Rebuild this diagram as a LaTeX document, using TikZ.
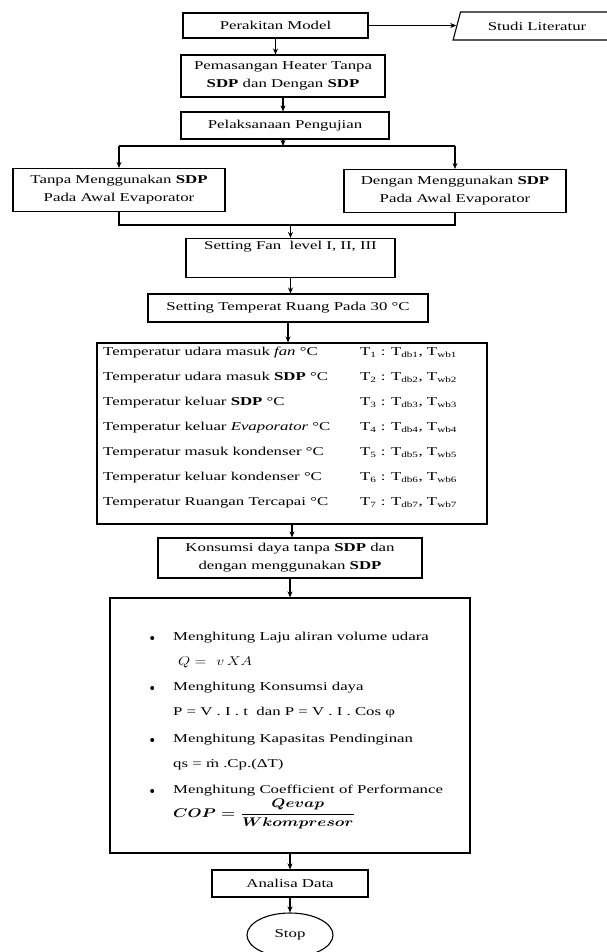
\documentclass[tikz,border=0pt]{standalone}
\usepackage{fontspec}
\setmainfont{Liberation Serif}[FakeStretch=1.4]
\usetikzlibrary{positioning, arrows.meta, calc, shapes.geometric}

\begin{document}
\begin{tikzpicture}[x=1pt, y=-1pt, font=\fontsize{12}{18}\selectfont, >={Stealth[length=6pt, width=5pt]},
  kotak/.style={draw, line width=1.1pt, align=center, inner sep=1pt},
  garis/.style={line width=1.1pt},
  baris/.style={anchor=west, inner sep=0pt}]
  \useasboundingbox (0,0) rectangle (606,952);
  % alur atas
  \node[kotak, minimum width=185, minimum height=25] (perakitan) at (275.5,25.5) {Perakitan Model};
  \node[kotak, trapezium, trapezium left angle=65, trapezium right angle=115, trapezium stretches, minimum width=168, minimum height=28] (studi) at (537,26) {Studi Literatur};
  \node[kotak, minimum width=204, minimum height=42] (pemasangan) at (283,76) {Pemasangan Heater Tanpa\\\textbf{SDP} dan Dengan \textbf{SDP}};
  \node[kotak, minimum width=208, minimum height=27] (pelaksanaan) at (285,125.5) {Pelaksanaan Pengujian};
  \node[kotak, minimum width=212, minimum height=43] (tanpa) at (119,190) {Tanpa Menggunakan \textbf{SDP}\\Pada Awal Evaporator};
  \node[kotak, minimum width=222, minimum height=43] (dengan) at (455,191) {Dengan Menggunakan \textbf{SDP}\\Pada Awal Evaporator};
  \node[kotak, minimum width=209, text height=10, text depth=27] (fan) at (290.5,258) {Setting Fan\ \ level I, II, III};
  \node[kotak, minimum width=280, minimum height=28] (suhu) at (288,308) {Setting Temperat Ruang Pada 30 °C};
  % tabel pengukuran
  \node[kotak, minimum width=390, minimum height=181] (tabel) at (292,433.5) {};
  \foreach \i/\teks in {1/{Temperatur udara masuk \textit{fan} °C},
                        2/{Temperatur udara masuk \textbf{SDP} °C},
                        3/{Temperatur keluar \textbf{SDP} °C},
                        4/{Temperatur keluar \textit{Evaporator} °C},
                        5/{Temperatur masuk kondenser °C},
                        6/{Temperatur keluar kondenser °C},
                        7/{Temperatur Ruangan Tercapai °C}} {
    \node[baris] (r\i) at (103,328+25*\i) {\teks};
    \node[baris] (t\i) at (360,328+25*\i) {T\textsubscript{\i} : T\textsubscript{db\i}, T\textsubscript{wb\i}};
  }
  \node[kotak, minimum width=264, minimum height=40] (konsumsi) at (290,558) {Konsumsi daya tanpa \textbf{SDP} dan\\dengan menggunakan \textbf{SDP}};
  % perhitungan
  \node[kotak, minimum width=360, minimum height=255] (hitung) at (290,725.5) {};
  \foreach \n/\y/\teks in {1/638/{Menghitung Laju aliran volume udara},
                           2/688/{Menghitung Konsumsi daya},
                           3/740/{Menghitung Kapasitas Pendinginan},
                           4/791/{Menghitung Coefficient of Performance}} {
    \node[baris, circle, fill, minimum size=4pt] (p\n) at (150,\y) {};
    \node[baris] (h\n) at (173,\y) {\teks};
  }
  \node[baris] (f1) at (178,662) {\scalebox{1.3}[1.05]{$Q =\ v\,X A$}};
  \node[baris] (f2) at (173,713) {P = V . I . t\ \ dan P = V . I . Cos φ};
  \node[baris] (f3) at (173,765) {qs = \.{m} .Cp.(ΔT)};
  \node[baris] (f4) at (173,814) {\scalebox{1.35}[1.05]{\boldmath$COP = \displaystyle\frac{Qevap}{Wkompresor}$}};
  \node[kotak, minimum width=156, minimum height=27] (analisa) at (290,883.5) {Analisa Data};
  \node[draw, ellipse, line width=1.1pt, minimum width=86, minimum height=44] (stop) at (290,935) {Stop};
  % penghubung
  \coordinate (pisah) at (283,146);
  \coordinate (gabung) at (290,225);
  \draw[garis, ->] (perakitan.east) -- (perakitan.east -| studi.west);
  \draw[garis, ->] (perakitan.south) -- (perakitan.south |- pemasangan.north);
  \draw[garis, ->] (pemasangan.south) -- (pemasangan.south |- pelaksanaan.north);
  \draw[garis, ->] (pelaksanaan.south -| pisah) -- (pisah);
  \draw[garis] (tanpa.north |- pisah) -- (dengan.north |- pisah);
  \draw[garis, ->] (tanpa.north |- pisah) -- (tanpa.north);
  \draw[garis, ->] (dengan.north |- pisah) -- (dengan.north);
  \draw[garis] (tanpa.south) -- (tanpa.south |- gabung) -- (dengan.south |- gabung) -- (dengan.south);
  \draw[garis, ->] (fan.north |- gabung) -- (fan.north);
  \draw[garis, ->] (fan.south) -- (fan.south |- suhu.north);
  \draw[garis, ->] (suhu.south) -- (suhu.south |- tabel.north);
  \draw[garis, ->] (tabel.south) -- (tabel.south |- konsumsi.north);
  \draw[garis, ->] (konsumsi.south) -- (konsumsi.south |- hitung.north);
  \draw[garis, ->] (hitung.south) -- (analisa.north);
  \draw[garis, ->] (analisa.south) -- (stop.north);
\end{tikzpicture}
\end{document}
